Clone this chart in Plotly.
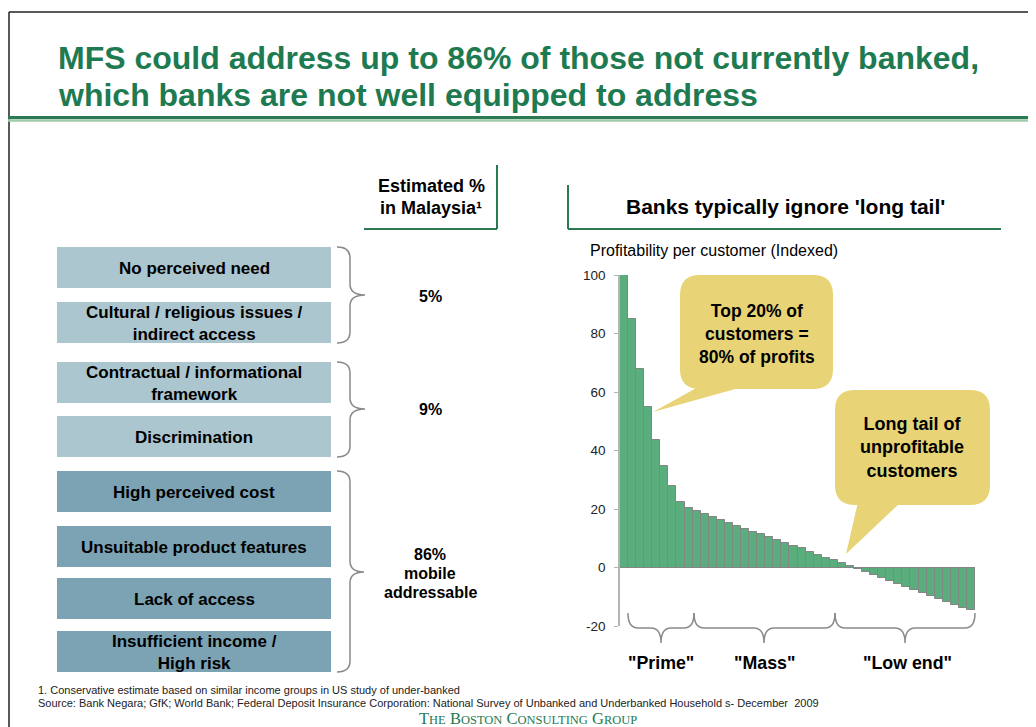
import plotly.graph_objects as go

# figure placed inside the page body (8px default margin); covers the visible window
FW, FH = 1028, 719
OX, OY = 8, 8

# ---------------- data ----------------
customer_rank = list(range(1, 45))
profitability = [100, 85, 68, 55, 43.5, 34.8, 28, 22.4, 20.4, 19.4, 18.4, 17.4, 16.4, 15.3,
                 14.2, 13.2, 12.2, 11.4, 10.4, 9.4, 8.4, 7.5, 6.5, 5.4, 4.4, 3.4, 2.4, 1.4, 0.4,
                 -0.5, -1.6, -2.5, -3.5, -4.6, -5.8, -6.8, -7.8, -8.8, -9.8, -10.8, -11.8,
                 -12.8, -13.8, -14.6]
y_ticks = [-20, 0, 20, 40, 60, 80, 100]

barrier_labels = ["No perceived need", "Cultural / religious issues /<br>indirect access",
                  "Contractual / informational<br>framework", "Discrimination",
                  "High perceived cost", "Unsuitable product features", "Lack of access",
                  "Insufficient income /<br>High risk"]
barrier_group_pct = ["5%", "9%", "86%<br>mobile<br>addressable"]
segment_labels = ['"Prime"', '"Mass"', '"Low end"']

FONT = "Arial, Liberation Sans, sans-serif"
GREEN = "#1e7a50"
BAR = "#5aae7e"
LIGHT_BOX = "#abc6cf"
DARK_BOX = "#7ba3b3"
CALLOUT = "#e8d476"
GREY = "#8a8a8a"


def X(x):
    return (x - OX) / FW


def Y(y):
    return 1 - (y - OY) / FH


def P(x, y):
    return f"{X(x):.5f},{Y(y):.5f}"


shapes = []
annotations = []


def line(x0, y0, x1, y1, color, width):
    shapes.append(dict(type="line", xref="paper", yref="paper", x0=X(x0), y0=Y(y0),
                       x1=X(x1), y1=Y(y1), line=dict(color=color, width=width)))


def rect(x0, y0, x1, y1, fill):
    shapes.append(dict(type="rect", xref="paper", yref="paper", x0=X(x0), y0=Y(y0),
                       x1=X(x1), y1=Y(y1), fillcolor=fill, line=dict(width=0), layer="below"))


def path(d, fill=None, color=None, width=0):
    s = dict(type="path", xref="paper", yref="paper", path=d)
    if fill:
        s["fillcolor"] = fill
    s["line"] = dict(color=color or "rgba(0,0,0,0)", width=width)
    shapes.append(s)


def text(x, y, t, size=16, bold=True, color="black", anchor="center", family=FONT):
    annotations.append(dict(xref="paper", yref="paper", x=X(x), y=Y(y), text=(f"<b>{t}</b>" if bold else t),
                            showarrow=False, xanchor=anchor, yanchor="middle",
                            font=dict(size=size, color=color, family=family)))


def vbrace(x0, xv, xp, y1, y2, ym, r=11):
    d = (f"M{P(x0, y1)} Q{P(xv, y1)} {P(xv, y1 + r)} L{P(xv, ym - r)} Q{P(xv, ym)} {P(xp, ym)} "
         f"Q{P(xv, ym)} {P(xv, ym + r)} L{P(xv, y2 - r)} Q{P(xv, y2)} {P(x0, y2)}")
    path(d, color=GREY, width=1.5)


def hbrace(x1, x2, xm, yt, yh, yp, r=10):
    d = (f"M{P(x1, yt)} Q{P(x1, yh)} {P(x1 + r, yh)} L{P(xm - r, yh)} Q{P(xm, yh)} {P(xm, yp)} "
         f"Q{P(xm, yh)} {P(xm + r, yh)} L{P(x2 - r, yh)} Q{P(x2, yh)} {P(x2, yt)}")
    path(d, color=GREY, width=1.5)


def rrect(x0, y0, x1, y1, r, fill):
    d = (f"M{P(x0 + r, y0)} L{P(x1 - r, y0)} Q{P(x1, y0)} {P(x1, y0 + r)} L{P(x1, y1 - r)} "
         f"Q{P(x1, y1)} {P(x1 - r, y1)} L{P(x0 + r, y1)} Q{P(x0, y1)} {P(x0, y1 - r)} "
         f"L{P(x0, y0 + r)} Q{P(x0, y0)} {P(x0 + r, y0)} Z")
    path(d, fill=fill)


# ---------------- slide frame ----------------
line(9, 727, 9, 12, "#222", 1.5)
line(9, 12, 1036, 12, "#222", 1.5)
line(8, 117.5, 1036, 117.5, "#2b7a54", 3)
line(8, 120.5, 1036, 120.5, "#9fcbab", 2.5)

text(56, 58, "MFS could address up to 86% of those not currently banked,", size=32, color=GREEN, anchor="left")
text(56, 95, "which banks are not well equipped to address", size=32, color=GREEN, anchor="left")

# ---------------- left panel ----------------
line(497, 165, 497, 229, "#2b7a54", 2)
line(364, 229, 497, 229, "#2b7a54", 2)
text(431, 186, "Estimated %", size=18)
text(431, 208, "in Malaysia¹", size=18)

box_y = [(247, 288), (302, 343), (362, 403), (416, 457), (471, 512), (526, 567), (578, 619), (631, 672)]
for i, (lab, (y0, y1)) in enumerate(zip(barrier_labels, box_y)):
    rect(57, y0, 331, y1, LIGHT_BOX if i < 4 else DARK_BOX)
    text(194, (y0 + y1) / 2 + 1, lab, size=17)

vbrace(337, 350, 365, 247, 343, 295)
vbrace(337, 350, 365, 362, 457, 409)
vbrace(337, 350, 364, 471, 672, 572)

text(430, 296, barrier_group_pct[0], size=16)
text(430, 410, barrier_group_pct[1], size=16)
for k, part in enumerate(barrier_group_pct[2].split("<br>")):
    text(430, 554 + 19 * k, part, size=16)

# ---------------- right panel ----------------
line(568, 185, 568, 229, "#2b7a54", 2)
line(568, 229, 1001, 229, "#2b7a54", 2)
text(785, 206, "Banks typically ignore 'long tail'", size=21)
text(588, 250, "Profitability per customer (Indexed)", size=16, bold=False, anchor="left")

# callouts
rrect(680, 275, 833, 389, 20, CALLOUT)
path(f"M{P(700, 386)} L{P(746, 386)} L{P(653, 412)} Z", fill=CALLOUT)
annotations.append(dict(xref="paper", yref="paper", x=X(757), y=Y(334),
                        text="<b>Top 20% of<br>customers =<br>80% of profits</b>", showarrow=False,
                        xanchor="center", yanchor="middle", font=dict(size=17.5, family=FONT, color="black")))
rrect(835, 390, 990, 505, 20, CALLOUT)
path(f"M{P(858, 502)} L{P(901, 502)} L{P(846, 554)} Z", fill=CALLOUT)
annotations.append(dict(xref="paper", yref="paper", x=X(912), y=Y(448),
                        text="<b>Long tail of<br>unprofitable<br>customers</b>", showarrow=False,
                        xanchor="center", yanchor="middle", font=dict(size=18, family=FONT, color="black")))

# segment braces
hbrace(628, 694, 661, 613, 628, 643)
hbrace(694, 835, 764, 613, 628, 643)
hbrace(835, 975, 905, 613, 628, 643)
text(661, 663, segment_labels[0], size=17.8)
text(764, 663, segment_labels[1], size=17.8)
text(907, 663, segment_labels[2], size=17.8)

# footnotes
text(36, 690, "1. Conservative estimate based on similar income groups in US study of under-banked",
     size=11, bold=False, anchor="left", color="#222")
text(36, 703, "Source: Bank Negara; GfK; World Bank; Federal Deposit Insurance Corporation: National Survey of "
              "Unbanked and Underbanked Household s- December  2009", size=11, bold=False, anchor="left", color="#222")
annotations.append(dict(xref="paper", yref="paper", x=X(528), y=Y(718),
                        text=("T<span style='font-size:12.5px'>HE</span> B<span style='font-size:12.5px'>OSTON</span> "
                              "C<span style='font-size:12.5px'>ONSULTING</span> G<span style='font-size:12.5px'>ROUP</span>"),
                        showarrow=False, xanchor="center", yanchor="middle",
                        font=dict(size=16.5, color="#1e7a50", family="Liberation Serif, Times New Roman, serif")))

# ---------------- bar chart ----------------
fig = go.Figure()
fig.add_trace(go.Bar(x=customer_rank, y=profitability, marker=dict(color=BAR, line=dict(color="#858585", width=1)),
                     width=1.0, hoverinfo="y"))

fig.update_layout(
    width=FW, height=FH, margin=dict(l=0, r=0, t=0, b=0, pad=0, autoexpand=False),
    paper_bgcolor="white", plot_bgcolor="rgba(0,0,0,0)",
    showlegend=False, bargap=0,
    font=dict(family=FONT, color="#222"),
    xaxis=dict(domain=[X(620), X(975)], range=[0.5, 44.5], visible=False, fixedrange=True, automargin=False),
    yaxis=dict(domain=[Y(626), Y(275)], range=[-20, 100], tickvals=y_ticks,
               ticktext=[str(v) for v in y_ticks], showgrid=False, automargin=False,
               zeroline=True, zerolinecolor="#858585", zerolinewidth=1.2,
               showline=True, linecolor="#b5b5b5", linewidth=1.5,
               ticks="outside", ticklen=4, tickcolor="#b5b5b5", tickfont=dict(size=13.5, color="#222"),
               ticklabelstandoff=6, fixedrange=True),
    shapes=shapes, annotations=annotations,
)

fig.write_html("out.html")
